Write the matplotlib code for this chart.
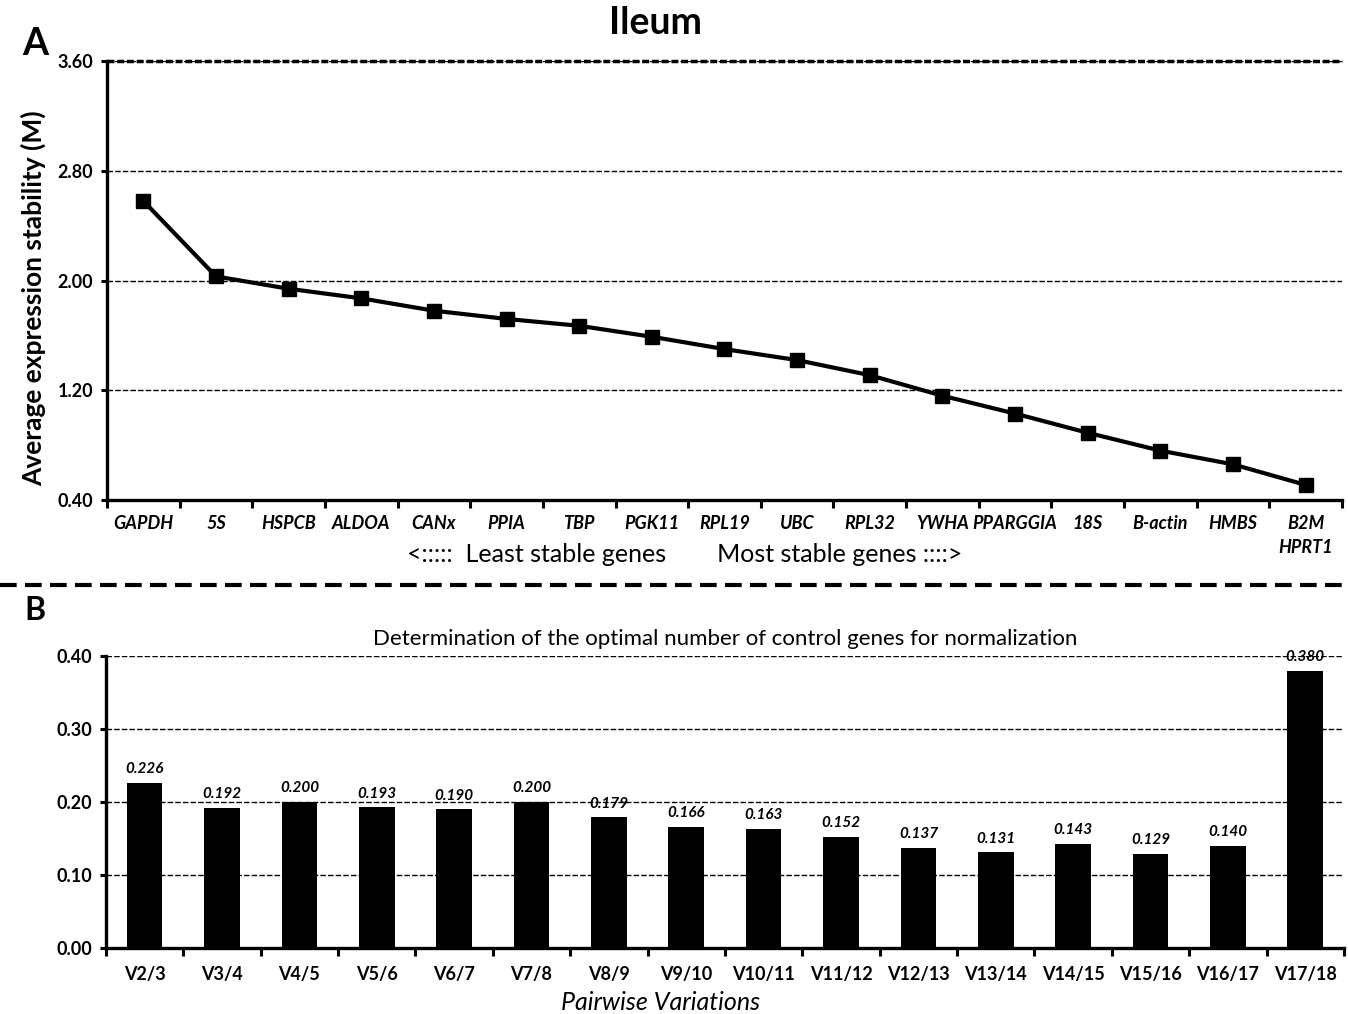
"""Ileum reference gene stability (geNorm M) and pairwise variation figure."""

import matplotlib
matplotlib.use("Agg")
import matplotlib.pyplot as plt
from matplotlib.lines import Line2D
import numpy as np

FONT = "Lato"

# Panel A: average expression stability, least to most stable
genes = ["GAPDH", "5S", "HSPCB", "ALDOA", "CANx", "PPIA", "TBP", "PGK11", "RPL19",
         "UBC", "RPL32", "YWHA", "PPARGGIA", "18S", "B-actin", "HMBS", "B2M\nHPRT1"]
m_values = [2.58, 2.03, 1.94, 1.87, 1.78, 1.72, 1.67, 1.59, 1.50,
            1.42, 1.31, 1.16, 1.03, 0.89, 0.76, 0.66, 0.51]
a_ticks = [0.40, 1.20, 2.00, 2.80, 3.60]

# Panel B: pairwise variations
pairs = ["V2/3", "V3/4", "V4/5", "V5/6", "V6/7", "V7/8", "V8/9", "V9/10",
         "V10/11", "V11/12", "V12/13", "V13/14", "V14/15", "V15/16", "V16/17", "V17/18"]
v_values = [0.226, 0.192, 0.200, 0.193, 0.190, 0.200, 0.179, 0.166,
            0.163, 0.152, 0.137, 0.131, 0.143, 0.129, 0.140, 0.380]
b_ticks = [0.00, 0.10, 0.20, 0.30, 0.40]

plt.rcParams["font.family"] = [FONT, "DejaVu Sans"]

fig = plt.figure(figsize=(13.48, 10.14), dpi=100)
ax_a = fig.add_axes([0.0794, 0.5069, 0.9161, 0.4329])
ax_b = fig.add_axes([0.0786, 0.0651, 0.9184, 0.2880])


def _style_axes(ax, n, yticks, fmt):
    for side in ("top", "right"):
        ax.spines[side].set_visible(False)
    for side in ("left", "bottom"):
        ax.spines[side].set_linewidth(2.4)
    ax.set_xlim(-0.5, n - 0.5)
    ax.set_ylim(yticks[0], yticks[-1])
    ax.set_yticks(yticks)
    ax.set_yticklabels([fmt.format(t) for t in yticks], fontsize=13, fontweight="bold")
    for t in yticks[1:]:
        ax.axhline(t, color="black", lw=1.0, ls=(0, (4, 1.5)), zorder=0)
    # category boundaries carry the major ticks, labels sit on minor ticks
    ax.set_xticks(np.arange(-0.5, n, 1.0))
    ax.set_xticklabels([])
    ax.set_xticks(np.arange(n), minor=True)
    ax.tick_params(axis="x", which="major", direction="out", length=6, width=2.2)
    ax.tick_params(axis="x", which="minor", length=0, pad=11)
    ax.tick_params(axis="y", direction="out", length=4, width=2.2, pad=6)


# ---- Panel A ----
x_a = np.arange(len(genes))
_style_axes(ax_a, len(genes), a_ticks, "{:.2f}")
ax_a.axhline(a_ticks[-1], color="black", lw=2.5, ls=(0, (2, 0.8)), zorder=1, clip_on=False)
ax_a.plot(x_a, m_values, color="black", lw=3.0, marker="s", markersize=9.5, zorder=3)
ax_a.set_xticklabels(genes, minor=True, fontsize=13, fontweight="bold", style="italic",
                     va="top", linespacing=1.5)
ax_a.set_ylabel("Average expression stability (M)", fontsize=19, fontweight="bold",
                labelpad=8, y=0.46)

# ---- Panel B ----
x_b = np.arange(len(pairs))
_style_axes(ax_b, len(pairs), b_ticks, "{:.2f}")
ax_b.bar(x_b, v_values, width=0.46, color="black", zorder=2)
for xi, v in zip(x_b, v_values):
    ax_b.text(xi, v + 0.009, f"{v:.3f}", ha="center", va="bottom", fontsize=11,
              fontweight="bold", style="italic", zorder=3)
ax_b.tick_params(axis="x", which="minor", pad=13)
ax_b.set_xticklabels(pairs, minor=True, fontsize=13, fontweight="bold")
ax_b.set_title("Determination of the optimal number of control genes for normalization",
               fontsize=16, pad=8, x=0.50)
ax_b.set_xlabel("Pairwise Variations", fontsize=18, style="italic", labelpad=6, x=0.448)

# ---- figure-level annotations ----
fig.text(0.486, 0.977, "Ileum", ha="center", va="center", fontsize=27, fontweight="bold")
fig.text(0.026, 0.957, "A", ha="center", va="center", fontsize=27, fontweight="bold")
fig.text(0.026, 0.398, "B", ha="center", va="center", fontsize=23, fontweight="bold")
fig.text(0.508, 0.453, "<:::::  Least stable genes        Most stable genes ::::>",
         ha="center", va="center", fontsize=18)
fig.add_artist(Line2D([0.0, 1.0], [0.4231, 0.4231], transform=fig.transFigure,
                      color="black", lw=3, ls=(0, (4, 2))))

fig.savefig("out.png", dpi=100)
